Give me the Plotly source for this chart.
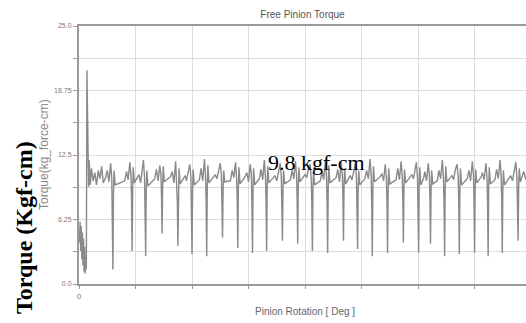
import plotly.graph_objects as go

# ---- data ----
rotation_deg = [
    0, 1, 2, 3, 4, 5, 6, 7, 8, 9, 10, 11, 12, 13, 14, 15, 16, 17, 18, 20, 22, 25, 28, 31, 34, 37, 40, 43,
    47, 50, 53, 56, 58, 59, 60, 61, 62, 64,
    81, 84, 87, 90, 92, 93, 94, 95, 96, 98,
    106, 109, 112, 114, 116, 117, 118, 119, 120, 122,
    134, 137, 140, 143, 145, 146, 147, 148, 149, 151,
    162, 165, 168, 171, 173, 174, 175, 176, 177, 179,
    188, 190, 193, 196, 198, 199, 200, 201, 202, 204,
    213, 216, 219, 222, 224, 225, 226, 227, 228, 230,
    241, 244, 247, 250, 252, 253, 254, 255, 256, 258,
    268, 271, 274, 277, 279, 280, 281, 282, 283, 285,
    294, 297, 300, 303, 305, 306, 307, 308, 309, 311,
    319, 322, 325, 328, 330, 331, 332, 333, 334, 336,
    347, 350, 353, 356, 358, 359, 360, 361, 362, 364,
    374, 377, 380, 383, 385, 386, 387, 388, 389, 391,
    400, 403, 406, 409, 411, 412, 413, 414, 415, 417,
    427, 430, 433, 436, 438, 439, 440, 441, 442, 444,
    455, 458, 461, 464, 466, 467, 468, 469, 470, 472,
    480, 483, 486, 489, 491, 492, 493, 494, 495, 497,
    506, 509, 512, 515, 517, 518, 519, 520, 521, 523,
    533, 536, 539, 542, 544, 545, 546, 547, 548, 550,
    561, 564, 567, 570, 572, 573, 574, 575, 576, 578,
    589, 592, 594, 597, 599, 600, 601, 602, 603, 605,
    610, 612, 615, 618, 620, 621, 622, 623, 624, 626,
    634, 637, 640, 643, 645, 646, 647, 648, 649, 651,
    660, 663, 666, 669, 671, 672, 673, 674, 675, 677,
    687, 690, 693, 696, 698, 699, 700, 701, 702, 704,
    712, 714, 717, 720, 722, 723, 724, 725, 726, 728,
    736, 739, 742, 745, 747, 748, 749, 750, 751, 753,
    764, 767, 770, 773, 775, 776, 777, 778, 779, 781,
    784, 787, 791,
]
torque = [
    5.2, 4.0, 6.0, 3.2, 5.6, 2.4, 5.0, 1.8, 4.4, 1.2, 3.6, 1.0, 2.6, 1.4, 20.7, 14.0, 12.3, 9.4, 12.0, 9.6, 11.2, 10.0, 10.8, 9.6, 11.0, 10.2, 11.4, 9.8,
    10.3, 11.0, 9.9, 11.7, 10.2, 7.5, 1.4, 8.8, 11.0, 9.6,
    10.0, 10.9, 10.1, 11.8, 10.5, 8.2, 3.2, 9.0, 11.3, 9.8,
    10.6, 9.8, 11.2, 12.0, 10.3, 7.8, 2.7, 9.2, 11.0, 9.5,
    10.2, 11.1, 10.0, 11.5, 10.6, 8.5, 4.9, 9.4, 11.4, 9.9,
    10.4, 10.9, 9.8, 11.9, 10.1, 8.0, 3.7, 8.9, 11.2, 9.7,
    10.5, 10.0, 11.0, 11.6, 10.4, 7.6, 2.9, 9.1, 11.1, 9.6,
    10.1, 11.2, 10.0, 12.1, 10.3, 7.9, 2.7, 9.3, 11.5, 9.8,
    10.6, 10.2, 11.1, 11.7, 10.5, 8.4, 4.5, 9.0, 11.0, 9.9,
    10.0, 11.0, 10.3, 11.8, 10.2, 8.1, 3.5, 9.2, 11.3, 9.7,
    10.4, 10.8, 9.9, 11.6, 10.6, 7.7, 3.0, 9.0, 11.2, 9.6,
    10.2, 11.1, 10.1, 12.0, 10.3, 8.0, 3.2, 9.4, 11.4, 9.8,
    10.5, 10.0, 10.9, 11.7, 10.4, 8.3, 4.2, 9.1, 11.0, 9.7,
    10.1, 11.0, 10.2, 11.9, 10.5, 8.1, 3.9, 9.3, 11.3, 9.9,
    10.6, 10.3, 11.2, 11.6, 10.2, 7.8, 3.2, 9.0, 11.1, 9.6,
    10.0, 10.9, 10.1, 12.0, 10.4, 7.9, 3.0, 9.2, 11.5, 9.8,
    10.3, 11.1, 9.9, 11.8, 10.6, 8.4, 4.2, 9.4, 11.2, 9.7,
    10.5, 10.1, 11.0, 11.7, 10.3, 8.0, 3.4, 9.1, 11.0, 9.6,
    10.2, 11.0, 10.2, 12.1, 10.5, 7.7, 2.7, 9.3, 11.4, 9.9,
    10.4, 10.7, 10.0, 11.6, 10.2, 7.9, 3.0, 9.0, 11.2, 9.7,
    10.1, 11.2, 10.1, 11.9, 10.4, 8.3, 4.0, 9.2, 11.1, 9.8,
    10.6, 10.2, 11.0, 11.8, 10.3, 7.8, 3.0, 9.4, 11.3, 9.6,
    10.3, 10.9, 10.0, 11.7, 10.5, 8.2, 3.9, 9.1, 11.0, 9.7,
    10.0, 11.0, 10.2, 12.0, 10.2, 7.7, 2.7, 9.3, 11.4, 9.9,
    10.5, 10.1, 11.1, 11.6, 10.4, 7.9, 2.9, 9.0, 11.2, 9.6,
    10.2, 11.0, 10.0, 11.9, 10.6, 8.0, 3.0, 9.2, 11.1, 9.8,
    10.4, 10.8, 10.1, 11.7, 10.3, 7.8, 2.7, 9.4, 11.3, 9.7,
    10.1, 11.1, 10.2, 12.0, 10.5, 8.1, 3.0, 9.1, 11.0, 9.6,
    10.5, 10.0, 11.0, 11.8, 10.2, 8.3, 4.2, 9.3, 11.2, 9.9,
    10.4, 10.9, 10.1,
]

y_tick_vals = [0, 3.125, 6.25, 9.375, 12.5, 15.625, 18.75, 21.875, 25.0]
y_tick_text = ["0.0", "", "6.25", "", "12.5", "", "18.75", "", "25.0"]
x_tick_vals = [0, 100, 200, 300, 400, 500, 600, 700]
x_tick_text = ["0", "", "", "", "", "", "", ""]

title_text = "Free Pinion Torque"
x_title = "Pinion Rotation [ Deg ]"
y_title = "Torque(kg_force-cm)"
outer_label = "Torque (Kgf-cm)"
note_text = "9.8 kgf-cm"

fig = go.Figure()
fig.add_trace(go.Scatter(
    x=rotation_deg, y=torque, mode="lines",
    line=dict(color="#8a8a8a", width=1.4),
    showlegend=False, hoverinfo="skip",
))

sans = "Liberation Sans, Arial, sans-serif"
serif = "Liberation Serif, Times New Roman, serif"

fig.update_layout(
    width=526, height=323,
    margin=dict(l=79, r=0, t=26, b=39),
    paper_bgcolor="white", plot_bgcolor="white",
    title=dict(text=title_text, x=(79 + 526) / 2 / 526, xanchor="center",
               y=1 - 14 / 323, yanchor="middle",
               font=dict(family=sans, size=10, color="#555555")),
    xaxis=dict(range=[0, 791], tickvals=x_tick_vals, ticktext=x_tick_text,
               showgrid=True, gridcolor="#dcdcdc", gridwidth=1,
               showline=True, linecolor="#9a9a9a", linewidth=2, mirror=True,
               ticks="outside", ticklen=3, tickcolor="#9a9a9a",
               tickfont=dict(family=sans, size=8, color="#777777"),
               zeroline=False, fixedrange=True),
    yaxis=dict(range=[0, 25], tickvals=y_tick_vals, ticktext=y_tick_text,
               showgrid=True, gridcolor="#dcdcdc", gridwidth=1,
               showline=True, linecolor="#9a9a9a", linewidth=2,
               ticks="outside", ticklen=4, tickcolor="#9a9a9a",
               tickfont=dict(family=sans, size=7, color="#777777"),
               zeroline=False, fixedrange=True),
)

fig.add_annotation(text=x_title, xref="paper", yref="paper",
                   x=(305 - 79) / 447, y=-27 / 258, xanchor="center", yanchor="middle",
                   showarrow=False, font=dict(family=sans, size=10, color="#666666"))
fig.add_annotation(text=y_title, xref="paper", yref="paper",
                   x=(44 - 79) / 447, y=0.5, xanchor="center", yanchor="middle",
                   textangle=-90, showarrow=False,
                   font=dict(family=sans, size=12, color="#8a8a8a"))
fig.add_annotation(text="<b>" + outer_label + "</b>", xref="paper", yref="paper",
                   x=(24 - 79) / 447, y=(284 - 228) / 258, xanchor="center", yanchor="middle",
                   textangle=-90, showarrow=False,
                   font=dict(family=serif, size=24, color="#000000"))
fig.add_annotation(text=note_text, xref="x", yref="y", x=420, y=11.8,
                   xanchor="center", yanchor="middle", showarrow=False,
                   font=dict(family=serif, size=22, color="#000000"))

fig.write_html("out.html", config={"displayModeBar": False},
               post_script="document.body.style.margin='0';")
